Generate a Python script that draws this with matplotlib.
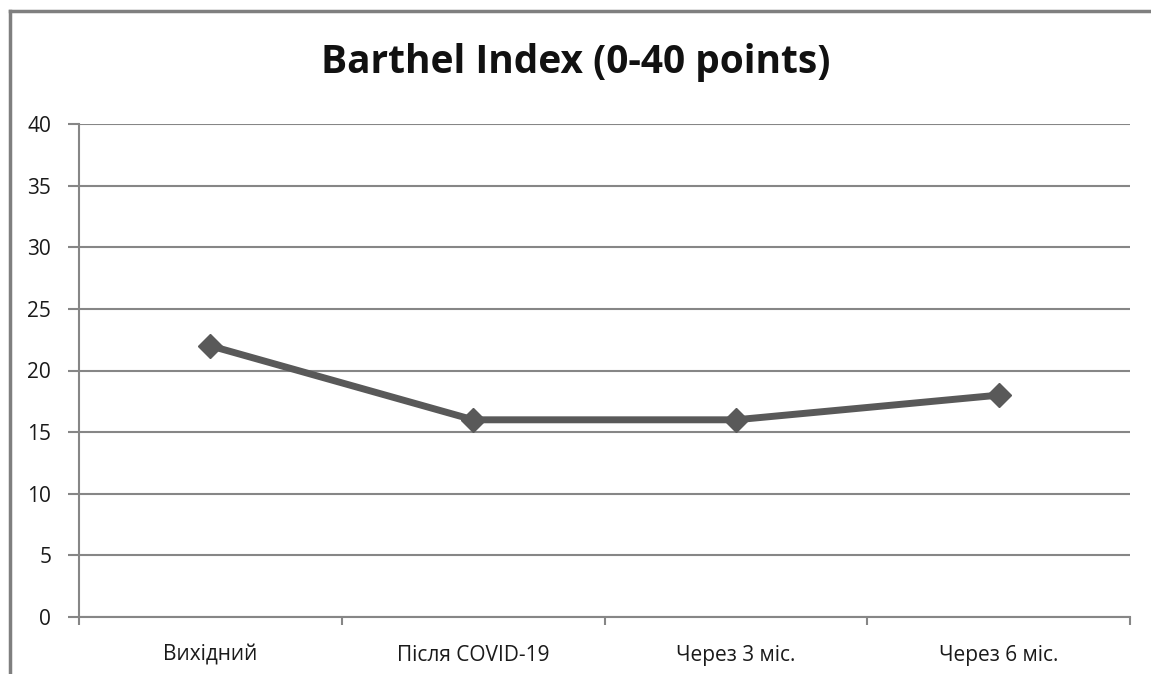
import matplotlib
matplotlib.use('Agg')
import matplotlib.pyplot as plt
import numpy as np

# data
categories = ['Вихідний', 'Після COVID-19', 'Через 3 міс.', 'Через 6 міс.']
barthel_values = [22, 16, 16, 18]
y_ticks = [0, 5, 10, 15, 20, 25, 30, 35, 40]
title = 'Barthel Index (0-40 points)'

plt.rcParams['font.family'] = ['Open Sans', 'DejaVu Sans']

grid_color = '#868686'
line_color = '#595959'

figure = plt.figure(figsize=(11.51, 6.74), dpi=100)
axis = figure.add_axes([79 / 1151, 1 - 617 / 674, (1130 - 79) / 1151, (617 - 124) / 674])

positions = np.arange(len(categories))
axis.plot(positions, barthel_values, color=line_color, linewidth=5,
          marker='D', markersize=12, markerfacecolor=line_color,
          markeredgecolor=line_color, solid_capstyle='round')

axis.set_xlim(-0.5, len(categories) - 0.5)
axis.set_ylim(0, 40)
axis.set_yticks(y_ticks)
axis.set_yticklabels([str(v) for v in y_ticks], fontsize=15, color='#1a1a1a')
axis.set_xticks(positions)
axis.set_xticklabels(categories, fontsize=15, color='#1a1a1a')
axis.set_xticks(np.arange(-0.5, len(categories)), minor=True)
axis.tick_params(axis='x', which='major', length=0, pad=20)
axis.tick_params(axis='x', which='minor', length=6, width=1.5, color=grid_color)
axis.tick_params(axis='y', length=8, width=1.5, color=grid_color, pad=12)

axis.grid(axis='y', color=grid_color, linewidth=1.5)
axis.set_axisbelow(True)
for side in ['top', 'right']:
    axis.spines[side].set_visible(False)
for side in ['left', 'bottom']:
    axis.spines[side].set_color(grid_color)
    axis.spines[side].set_linewidth(1.5)

figure.text(0.5, 1 - 62 / 674, title, ha='center', va='center',
            fontsize=28, fontweight='bold', color='#111111')

# outer frame: left and top edges only
figure.add_artist(plt.Line2D([10 / 1151, 10 / 1151], [0, 1 - 11 / 674],
                             color='#7f7f7f', linewidth=2.5))
figure.add_artist(plt.Line2D([10 / 1151, 1], [1 - 11 / 674, 1 - 11 / 674],
                             color='#7f7f7f', linewidth=2.5))

figure.savefig('out.png', dpi=100)
